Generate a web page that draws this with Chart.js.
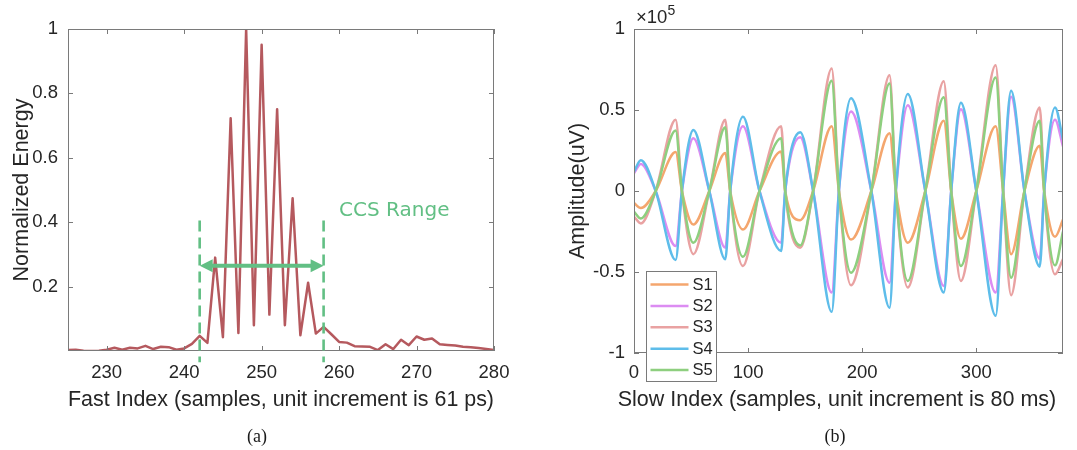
<!DOCTYPE html>
<html lang="en">
<head>
<meta charset="UTF-8">
<title>Normalized energy and slow-time amplitude</title>
<script src="https://cdn.jsdelivr.net/npm/chart.js"></script>
<style>
  html, body { margin: 0; padding: 0; background: #fff; }
  body { width: 1077px; height: 450px; position: relative; overflow: hidden; }
  canvas { position: absolute; top: 0; }
  #energyChart { left: 0; }
  #slowChart { left: 540px; }
</style>
</head>
<body>
<canvas id="energyChart" width="540" height="450"></canvas>
<canvas id="slowChart" width="537" height="450"></canvas>
<script>
// ---- (a) normalized energy over fast index ----
const fastIndex = [225, 226, 227, 228, 229, 230, 231, 232, 233, 234, 235, 236, 237, 238, 239, 240,
  241, 242, 243, 244, 245, 246, 247, 248, 249, 250, 251, 252, 253, 254, 255, 256, 257, 258, 259, 260,
  261, 262, 263, 264, 265, 266, 267, 268, 269, 270, 271, 272, 273, 274, 275, 276, 277, 278, 279, 280];
const energy = [0.003, 0.004, 0.001, 0.000, 0.001, 0.004, 0.010, 0.004, 0.010, 0.008, 0.016, 0.006, 0.013, 0.012, 0.004, 0.008,
  0.022, 0.047, 0.025, 0.290, 0.043, 0.723, 0.056, 1.000, 0.080, 0.951, 0.113, 0.751, 0.080, 0.474, 0.049, 0.212, 0.054, 0.075, 0.052, 0.028,
  0.026, 0.015, 0.014, 0.013, 0.003, 0.021, 0.006, 0.035, 0.018, 0.045, 0.035, 0.039, 0.021, 0.019, 0.017, 0.013, 0.012, 0.009, 0.006, 0.003];
const fastTicks = [230, 240, 250, 260, 270, 280];
const energyTicks = [0.2, 0.4, 0.6, 0.8, 1];
const ccsRange = [242, 258];      // fast index bounds of the CCS window

// ---- (b) amplitude (x10^5 uV) over slow index ----
const slowIndex = [0, 6, 19, 36.5, 42, 52, 66, 80, 84.3, 95.5, 110, 129, 132.5, 145.7, 157, 173.3, 179.6,
  190.2, 208, 224, 229.5, 240, 255.3, 271.5, 278, 286.5, 300, 317, 323.5, 330.5, 342.2, 355.6, 359.5, 369, 376];
const s1 = [-0.074, -0.105, 0, 0.24, 0, -0.207, 0, 0.234, 0, -0.238, 0, 0.244, 0, -0.18, 0, 0.40, 0,
  -0.30, 0, 0.357, 0, -0.32, 0, 0.434, 0, -0.295, 0, 0.40, 0, -0.39, 0, 0.279, 0, -0.283, -0.176];
const s2 = [0.11, 0.167, 0, -0.34, 0, 0.326, 0, -0.35, 0, 0.40, 0, -0.32, 0, 0.332, 0, -0.627, 0,
  0.49, 0, -0.566, 0, 0.53, 0, -0.586, 0, 0.504, 0, -0.627, 0, 0.582, 0, -0.418, 0, 0.44, 0.275];
const s3 = [-0.158, -0.20, 0, 0.44, 0, -0.39, 0, 0.44, 0, -0.463, 0, 0.40, 0, -0.35, 0, 0.756, 0,
  -0.582, 0, 0.715, 0, -0.596, 0, 0.678, 0, -0.555, 0, 0.777, 0, -0.643, 0, 0.516, 0, -0.514, -0.42];
const s4 = [0.12, 0.19, 0, -0.426, 0, 0.377, 0, -0.422, 0, 0.459, 0, -0.37, 0, 0.363, 0, -0.746, 0,
  0.572, 0, -0.72, 0, 0.598, 0, -0.627, 0, 0.545, 0, -0.77, 0, 0.619, 0, -0.467, 0, 0.516, 0.316];
const s5 = [-0.128, -0.17, 0, 0.373, 0, -0.32, 0, 0.393, 0, -0.406, 0, 0.326, 0, -0.336, 0, 0.68, 0,
  -0.504, 0, 0.664, 0, -0.555, 0, 0.578, 0, -0.463, 0, 0.70, 0, -0.535, 0, 0.434, 0, -0.459, -0.25];
const seriesNames = ['S1', 'S2', 'S3', 'S4', 'S5'];
const slowTicks = [0, 100, 200, 300];
const ampTicks = [-1, -0.5, 0, 0.5, 1];

const seriesColors = ['#f4a66e', '#dc8cf2', '#e9a2a2', '#5ebdea', '#8ecf7f'];
const boxColor = '#7a7a7a';
const ccsColor = '#62bf84';

Chart.defaults.font.family = '"Liberation Sans", Arial, Helvetica, sans-serif';
Chart.defaults.color = '#262626';

// matlab style box with inward ticks on all four sides
const matlabBox = {
  id: 'matlabBox',
  afterDatasetsDraw(chart) {
    const { ctx, chartArea: a, scales } = chart;
    const len = 5;
    ctx.save();
    ctx.strokeStyle = boxColor;
    ctx.lineWidth = 1;
    ctx.beginPath();
    scales.x.ticks.forEach(t => {
      const px = Math.round(scales.x.getPixelForValue(t.value)) + 0.5;
      ctx.moveTo(px, a.bottom); ctx.lineTo(px, a.bottom - len);
      ctx.moveTo(px, a.top); ctx.lineTo(px, a.top + len);
    });
    scales.y.ticks.forEach(t => {
      const py = Math.round(scales.y.getPixelForValue(t.value)) + 0.5;
      ctx.moveTo(a.left, py); ctx.lineTo(a.left + len, py);
      ctx.moveTo(a.right, py); ctx.lineTo(a.right - len, py);
    });
    ctx.stroke();
    ctx.strokeRect(Math.round(a.left) + 0.5, Math.round(a.top) + 0.5, Math.round(a.width) - 1, Math.round(a.height) - 1);
    ctx.restore();
  }
};

// dashed CCS bounds + double arrow + label
const ccsMarker = {
  id: 'ccsMarker',
  afterDatasetsDraw(chart) {
    const { ctx, scales: { x, y } } = chart;
    const x0 = x.getPixelForValue(ccsRange[0]);
    const x1 = x.getPixelForValue(ccsRange[1]);
    const yTop = y.getPixelForValue(0.405);
    const yBot = y.getPixelForValue(-0.035);
    const yArrow = y.getPixelForValue(0.265);
    ctx.save();
    ctx.strokeStyle = ccsColor;
    ctx.fillStyle = ccsColor;
    ctx.lineWidth = 2.6;
    ctx.setLineDash([11, 6]);
    [x0, x1].forEach(px => {
      ctx.beginPath(); ctx.moveTo(px, yTop); ctx.lineTo(px, yBot); ctx.stroke();
    });
    ctx.setLineDash([]);
    ctx.lineWidth = 4;
    ctx.beginPath(); ctx.moveTo(x0 + 10, yArrow); ctx.lineTo(x1 - 10, yArrow); ctx.stroke();
    [[x0, 1], [x1, -1]].forEach(([px, d]) => {
      ctx.beginPath();
      ctx.moveTo(px, yArrow);
      ctx.lineTo(px + d * 13, yArrow - 6.5);
      ctx.lineTo(px + d * 13, yArrow + 6.5);
      ctx.closePath();
      ctx.fill();
    });
    ctx.font = '20px "Comic Sans MS", "DejaVu Sans", sans-serif';
    ctx.textBaseline = 'middle';
    ctx.textAlign = 'left';
    ctx.fillText('CCS Range', x.getPixelForValue(260), y.getPixelForValue(0.434));
    ctx.restore();
  }
};

function caption(text, cx, cy) {
  return {
    id: 'caption',
    afterDraw(chart) {
      const ctx = chart.ctx;
      ctx.save();
      ctx.fillStyle = '#1a1a1a';
      ctx.font = '18px "Liberation Serif", "Times New Roman", serif';
      ctx.textAlign = 'center';
      ctx.textBaseline = 'middle';
      ctx.fillText(text, cx, cy);
      ctx.restore();
    }
  };
}

// exponent label, x title and legend of panel (b)
const slowExtras = {
  id: 'slowExtras',
  afterDatasetsDraw(chart) {
    const { ctx, chartArea: a } = chart;
    ctx.save();
    ctx.fillStyle = '#262626';
    ctx.textAlign = 'left';
    ctx.textBaseline = 'middle';
    ctx.font = '18.5px "Liberation Sans", Arial, sans-serif';
    ctx.fillText('\u00d710', a.left + 2, 18);
    const w = ctx.measureText('\u00d710').width;
    ctx.font = '14px "Liberation Sans", Arial, sans-serif';
    ctx.fillText('5', a.left + 2 + w, 11);
    // x axis title, sits a bit left of the axes centre in the figure
    ctx.font = '21.5px "Liberation Sans", Arial, sans-serif';
    ctx.textAlign = 'center';
    ctx.fillText('Slow Index (samples, unit increment is 80 ms)', 297, 400.5);
    // legend box
    const lx = a.left + 12, ly = a.bottom - 82, lw = 70, lh = 110;
    ctx.textAlign = 'left';
    ctx.fillStyle = '#fff';
    ctx.fillRect(lx, ly, lw, lh);
    ctx.strokeStyle = boxColor;
    ctx.lineWidth = 1;
    ctx.strokeRect(Math.round(lx) + 0.5, Math.round(ly) + 0.5, lw, lh);
    ctx.font = '16.5px "Liberation Sans", Arial, sans-serif';
    chart.data.datasets.forEach((ds, i) => {
      const yy = ly + 13.5 + i * 21.4;
      ctx.strokeStyle = ds.borderColor;
      ctx.lineWidth = 2.5;
      ctx.beginPath(); ctx.moveTo(lx + 4.5, yy); ctx.lineTo(lx + 42.5, yy); ctx.stroke();
      ctx.fillStyle = '#262626';
      ctx.fillText(ds.label, lx + 46.5, yy + 0.5);
    });
    ctx.restore();
  }
};

const tickFont = { size: 18.5 };
const titleFont = { size: 21.5 };
const plainLabel = v => String(v);

new Chart(document.getElementById('energyChart'), {
  type: 'line',
  data: {
    datasets: [{
      label: 'Normalized Energy',
      data: fastIndex.map((v, i) => ({ x: v, y: energy[i] })),
      borderColor: '#b5595e',
      borderWidth: 2.5,
      borderJoinStyle: 'round',
      pointRadius: 0,
      tension: 0
    }]
  },
  options: {
    responsive: false,
    animation: false,
    events: [],
    layout: { padding: { top: 29, right: 46, left: 0, bottom: 0 } },
    plugins: { legend: { display: false }, tooltip: { enabled: false } },
    scales: {
      x: {
        type: 'linear', min: 225, max: 280,
        afterBuildTicks: s => { s.ticks = fastTicks.map(v => ({ value: v })); },
        afterFit: s => { s.height = 99; },
        grid: { display: false, drawTicks: false },
        border: { display: false },
        ticks: { padding: 11, font: tickFont, maxRotation: 0, autoSkip: false, callback: plainLabel },
        title: { display: true, text: 'Fast Index (samples, unit increment is 61 ps)', font: titleFont, padding: { top: 0, bottom: 36.6 } }
      },
      y: {
        type: 'linear', min: 0, max: 1,
        afterBuildTicks: s => { s.ticks = energyTicks.map(v => ({ value: v })); },
        afterFit: s => { s.width = 68; },
        grid: { display: false, drawTicks: false },
        border: { display: false },
        ticks: { padding: 10, font: tickFont, autoSkip: false, callback: plainLabel },
        title: { display: true, text: 'Normalized Energy', font: titleFont, padding: { top: 9, bottom: 0 } }
      }
    }
  },
  plugins: [matlabBox, ccsMarker, caption('(a)', 257, 437)]
});

const slowData = [s1, s2, s3, s4, s5];

new Chart(document.getElementById('slowChart'), {
  type: 'line',
  data: {
    datasets: slowData.map((vals, i) => ({
      label: seriesNames[i],
      data: slowIndex.map((x, j) => ({ x: x, y: vals[j] })),
      borderColor: seriesColors[i],
      borderWidth: 2.5,
      pointRadius: 0,
      cubicInterpolationMode: 'monotone',
      order: 5 - i
    }))
  },
  options: {
    responsive: false,
    animation: false,
    events: [],
    layout: { padding: { top: 29, right: 14, left: 0, bottom: 0 } },
    plugins: { legend: { display: false }, tooltip: { enabled: false } },
    scales: {
      x: {
        type: 'linear', min: 0, max: 376,
        afterBuildTicks: s => { s.ticks = slowTicks.map(v => ({ value: v })); },
        afterFit: s => { s.height = 97; },
        grid: { display: false, drawTicks: false },
        border: { display: false },
        ticks: { padding: 9, font: tickFont, maxRotation: 0, autoSkip: false, callback: plainLabel }
      },
      y: {
        type: 'linear', min: -1, max: 1,
        afterBuildTicks: s => { s.ticks = ampTicks.map(v => ({ value: v })); },
        afterFit: s => { s.width = 94; },
        grid: { display: false, drawTicks: false },
        border: { display: false },
        ticks: { padding: 9, font: tickFont, autoSkip: false, callback: plainLabel },
        title: { display: true, text: 'Amplitude(uV)', font: titleFont, padding: { top: 25, bottom: 0 } }
      }
    }
  },
  plugins: [matlabBox, slowExtras, caption('(b)', 295, 437)]
});
</script>
</body>
</html>
